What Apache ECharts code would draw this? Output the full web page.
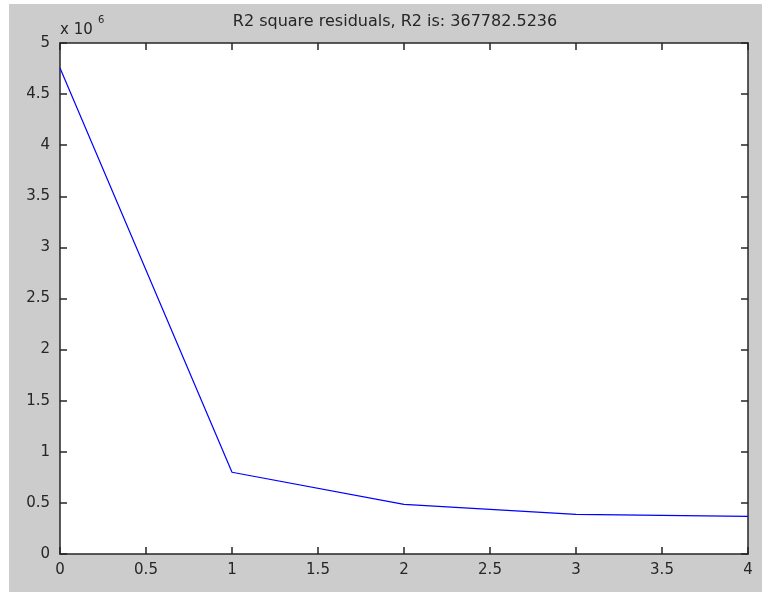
<!DOCTYPE html>
<html>
<head>
<meta charset="utf-8">
<script src="https://cdn.jsdelivr.net/npm/echarts@6/dist/echarts.min.js"></script>
<style>
  html, body { margin: 0; padding: 0; background: #ffffff; }
  #frame { position: absolute; left: 9px; top: 4px; width: 753px; height: 588px; background: #cccccc; }
  #chart { position: absolute; left: 0; top: 0; width: 762px; height: 592px; }
</style>
</head>
<body>
<div id="frame"></div>
<div id="chart"></div>
<script>
// Number of terms vs. sum of squared residuals
const xValues = [0, 1, 2, 3, 4];
const residuals = [4755000, 800000, 485000, 387000, 367782.5236];
const titleText = 'R2 square residuals, R2 is: 367782.5236';
const yScale = 1e6;

const font = 'DejaVu Sans';
const labelColor = '#262626';
const axisColor = '#262626';

const chart = echarts.init(document.getElementById('chart'), null, { renderer: 'canvas' });

function axisCommon(show) {
  return {
    type: 'value',
    axisLine: { show: true, onZero: false, lineStyle: { color: axisColor, width: 1.5 } },
    axisTick: { show: true, inside: true, length: 7, lineStyle: { color: axisColor, width: 1.5 } },
    splitLine: { show: false },
    axisLabel: { show: show, color: labelColor, fontFamily: font, fontSize: 15 }
  };
}

const xBase = Object.assign(axisCommon(true), { min: 0, max: 4, interval: 0.5, position: 'bottom' });
xBase.axisLabel.margin = 9;
const xTop = Object.assign(axisCommon(false), { min: 0, max: 4, interval: 0.5, position: 'top' });
const yBase = Object.assign(axisCommon(true), { min: 0, max: 5 * yScale, interval: 0.5 * yScale, position: 'left' });
yBase.axisLabel.formatter = v => String(+(v / yScale).toFixed(1));
yBase.axisLabel.margin = 10;
const yRight = Object.assign(axisCommon(false), { min: 0, max: 5 * yScale, interval: 0.5 * yScale, position: 'right' });

chart.setOption({
  animation: false,
  backgroundColor: 'transparent',
  grid: { left: 60, right: 14, top: 43, bottom: 38, show: true, backgroundColor: '#ffffff', borderWidth: 0 },
  xAxis: [xBase, xTop],
  yAxis: [yBase, yRight],
  graphic: [
    { type: 'text', x: 395, y: 22, style: { text: titleText, fill: labelColor, font: '16px "' + font + '"', textAlign: 'center', textVerticalAlign: 'middle' } },
    { type: 'text', x: 60, y: 30, style: { text: 'x 10', fill: labelColor, font: '15px "' + font + '"', textVerticalAlign: 'middle' } },
    { type: 'text', x: 98, y: 20, style: { text: '6', fill: labelColor, font: '10px "' + font + '"', textVerticalAlign: 'middle' } }
  ],
  series: [{
    type: 'line',
    xAxisIndex: 0,
    yAxisIndex: 0,
    data: xValues.map((x, i) => [x, residuals[i]]),
    symbol: 'none',
    lineStyle: { color: '#0000ff', width: 1.2 }
  }]
});
</script>
</body>
</html>
